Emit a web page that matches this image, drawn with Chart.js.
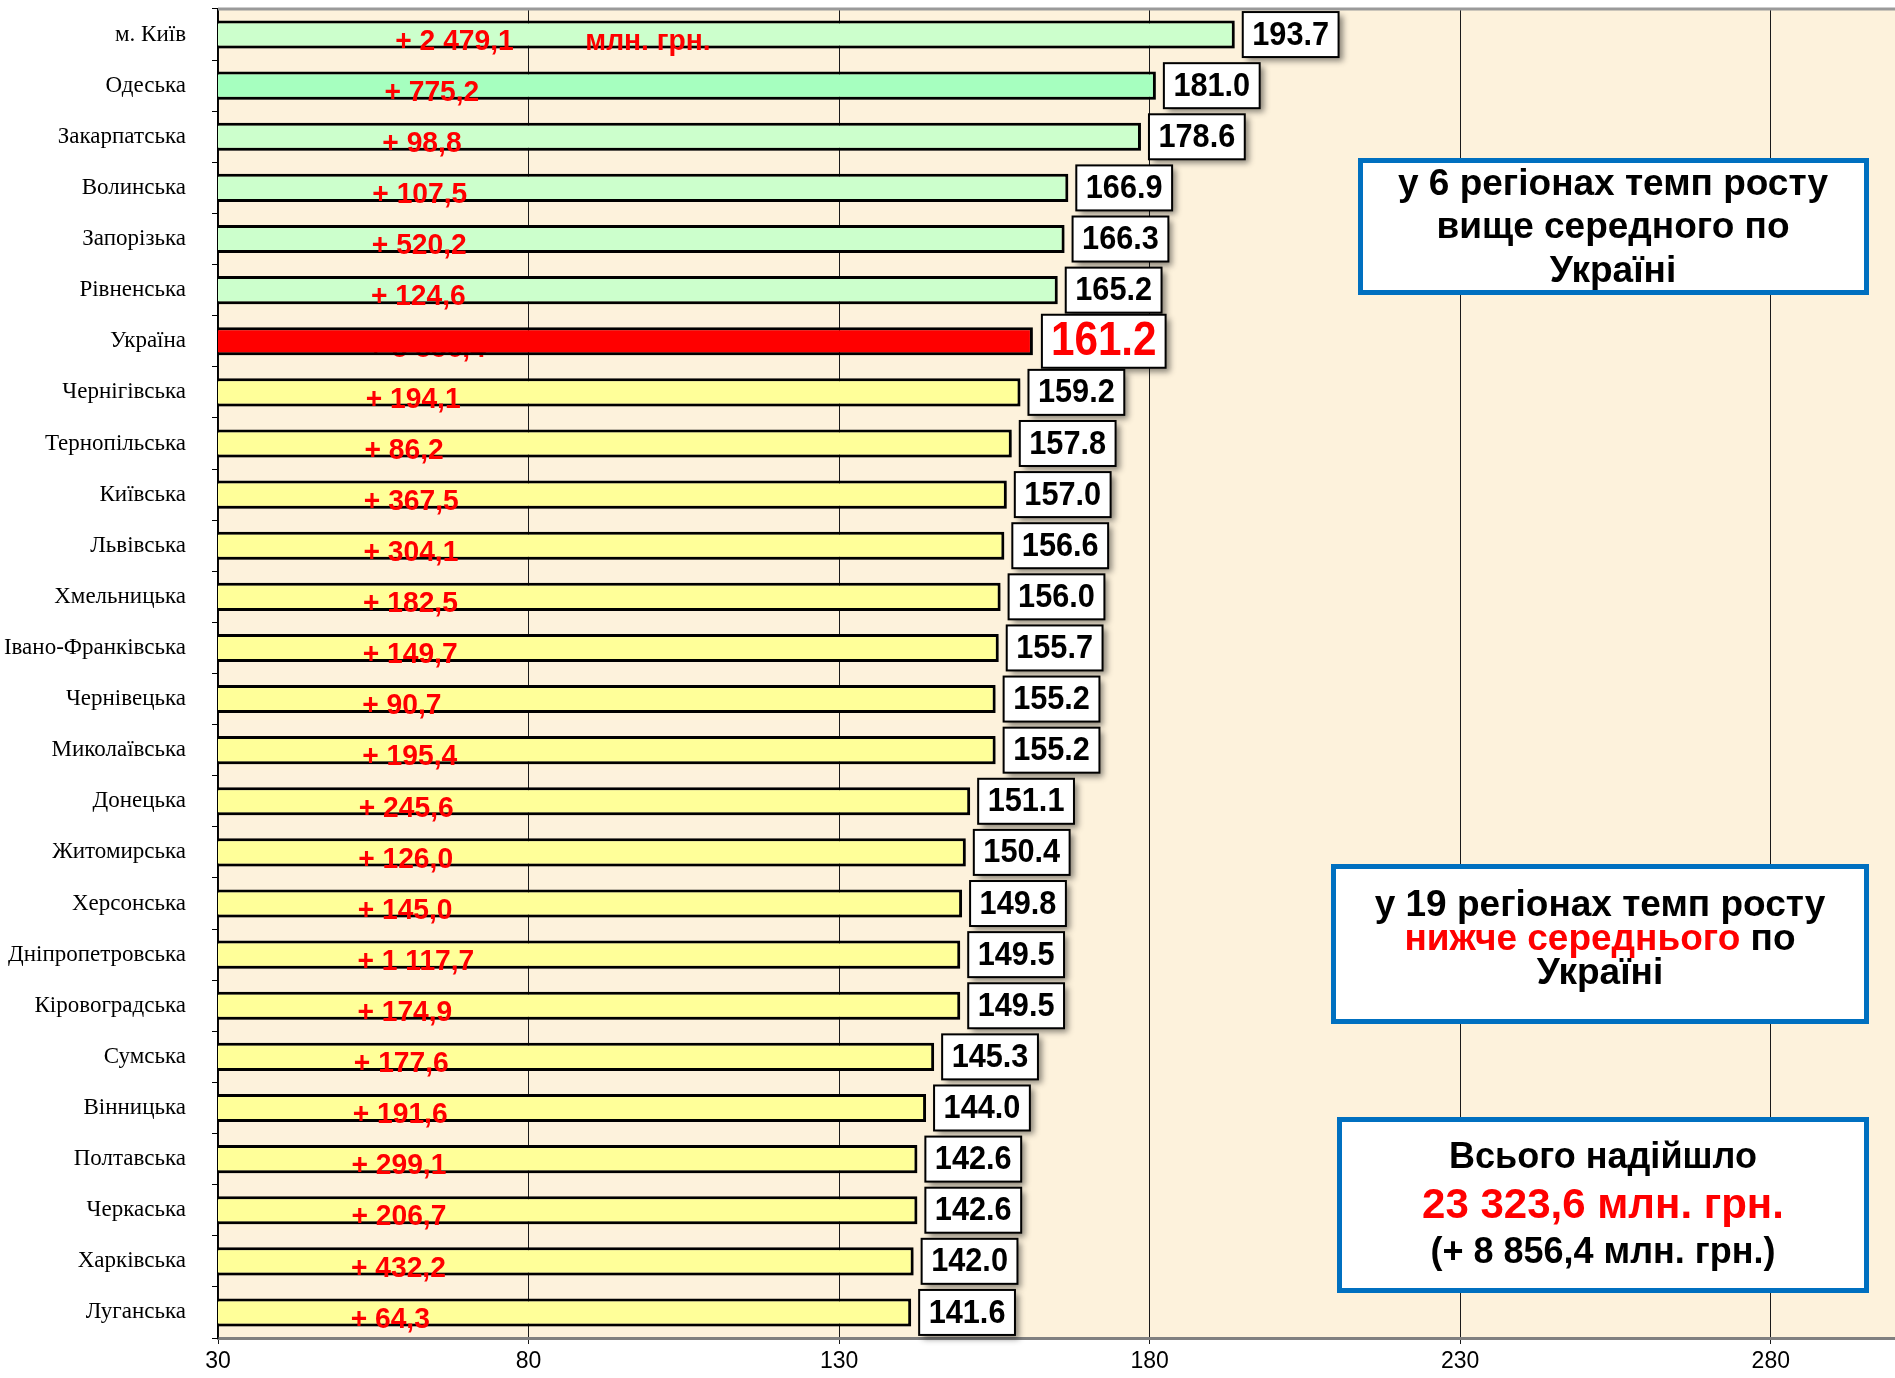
<!DOCTYPE html>
<html lang="uk">

<head>
    <meta charset="UTF-8">
    <title>Темп росту надходжень по регіонах</title>
    <script src="https://cdn.jsdelivr.net/npm/chart.js"></script>
    <style>
        html,
        body {
            margin: 0;
            padding: 0;
            background: #ffffff;
        }
    </style>
</head>

<body>
    <canvas id="graficoBarra" width="1895" height="1378"></canvas>
</body>

</html>

<script>
    // дані
    const regiony = ['м. Київ', 'Одеська', 'Закарпатська', 'Волинська', 'Запорізька', 'Рівненська', 'Україна',
        'Чернігівська', 'Тернопільська', 'Київська', 'Львівська', 'Хмельницька', 'Івано-Франківська',
        'Чернівецька', 'Миколаївська', 'Донецька', 'Житомирська', 'Херсонська', 'Дніпропетровська',
        'Кіровоградська', 'Сумська', 'Вінницька', 'Полтавська', 'Черкаська', 'Харківська', 'Луганська'];

    const tempRostu = [193.7, 181.0, 178.6, 166.9, 166.3, 165.2, 161.2, 159.2, 157.8, 157.0, 156.6, 156.0, 155.7,
        155.2, 155.2, 151.1, 150.4, 149.8, 149.5, 149.5, 145.3, 144.0, 142.6, 142.6, 142.0, 141.6];

    const pryrist = ['+ 2 479,1', '+ 775,2', '+ 98,8', '+ 107,5', '+ 520,2', '+ 124,6', '+ 8 856,4', '+ 194,1',
        '+ 86,2', '+ 367,5', '+ 304,1', '+ 182,5', '+ 149,7', '+ 90,7', '+ 195,4', '+ 245,6', '+ 126,0',
        '+ 145,0', '+ 1 117,7', '+ 174,9', '+ 177,6', '+ 191,6', '+ 299,1', '+ 206,7', '+ 432,2', '+ 64,3'];

    const xTicks = [30, 80, 130, 180, 230, 280];
    const odynytsi = 'млн. грн.';

    const indeksUkrainy = regiony.indexOf('Україна');
    const tempUkraina = tempRostu[indeksUkrainy];

    function kolir(i) {
        if (i === indeksUkrainy) return '#FF0000';
        if (regiony[i] === 'Одеська') return '#A6FFBF';
        return tempRostu[i] > tempUkraina ? '#CCFFCC' : '#FFFF99';
    }

    // текст трохи вужчий, як у оригіналі
    function vuzkyiTekst(ctx, text, x, y, font, color, sx, align) {
        ctx.save();
        ctx.font = font;
        ctx.fillStyle = color;
        ctx.textBaseline = 'middle';
        ctx.textAlign = align || 'left';
        ctx.translate(x, y);
        ctx.scale(sx, 1);
        ctx.fillText(text, 0, 0);
        ctx.restore();
    }

    function shyrynaTekstu(ctx, text, font, sx) {
        ctx.save();
        ctx.font = font;
        const w = ctx.measureText(text).width * sx;
        ctx.restore();
        return w;
    }

    function pidpysPryrostu(chart, bar, i) {
        const ctx = chart.ctx;
        const pochatok = chart.scales.x.getPixelForValue(xTicks[0]);
        const x = pochatok + 37 + 0.138 * (bar.x - pochatok);
        const font = 'bold 30px "Liberation Sans", Arial, sans-serif';
        vuzkyiTekst(ctx, pryrist[i], x, bar.y + 7, font, '#FF0000', 0.94);
        if (i === 0) {
            vuzkyiTekst(ctx, odynytsi, x + 190, bar.y + 7, font, '#FF0000', 0.94);
        }
    }

    const pluginPidpysy = {
        id: 'pidpysy',
        beforeDraw(chart) {
            const ctx = chart.ctx;
            const a = chart.chartArea;
            ctx.save();
            ctx.fillStyle = '#FDF2DC';
            ctx.fillRect(a.left, a.top, a.right - a.left, a.bottom - a.top);
            ctx.restore();
        },
        beforeDatasetsDraw(chart) {
            const ctx = chart.ctx;
            const meta = chart.getDatasetMeta(0);
            // підпис України ховається під червоним стовпчиком
            pidpysPryrostu(chart, meta.data[indeksUkrainy], indeksUkrainy);
            ctx.save();
            ctx.shadowColor = 'rgba(0,0,0,0.22)';
            ctx.shadowBlur = 4;
            ctx.shadowOffsetX = 2;
            ctx.shadowOffsetY = 3;
        },
        afterDatasetsDraw(chart) {
            const ctx = chart.ctx;
            ctx.restore();
            const meta = chart.getDatasetMeta(0);
            const a = chart.chartArea;

            // сіра лінія зверху
            ctx.save();
            ctx.strokeStyle = '#9a9a9a';
            ctx.lineWidth = 3;
            ctx.beginPath();
            ctx.moveTo(a.left, a.top);
            ctx.lineTo(a.right, a.top);
            ctx.stroke();
            ctx.restore();

            meta.data.forEach(function (bar, i) {
                if (i !== indeksUkrainy) pidpysPryrostu(chart, bar, i);

                const ukr = i === indeksUkrainy;
                const text = tempRostu[i].toFixed(1);
                const font = ukr ? 'bold 48px "Liberation Sans", Arial, sans-serif'
                    : 'bold 33px "Liberation Sans", Arial, sans-serif';
                const sx = ukr ? 0.88 : 0.93;
                const tw = shyrynaTekstu(ctx, text, font, sx);
                const w = ukr ? tw + 18 : tw + 19;
                const h = ukr ? 53 : 45;
                const x = bar.x + (ukr ? 9 : 8);
                const y = bar.y - h / 2;

                ctx.save();
                ctx.shadowColor = 'rgba(0,0,0,0.45)';
                ctx.shadowBlur = 6;
                ctx.shadowOffsetX = 4;
                ctx.shadowOffsetY = 4;
                ctx.fillStyle = '#ffffff';
                ctx.fillRect(x, y, w, h);
                ctx.restore();
                ctx.save();
                ctx.strokeStyle = '#000000';
                ctx.lineWidth = 2;
                ctx.strokeRect(x, y, w, h);
                ctx.restore();

                vuzkyiTekst(ctx, text, x + w / 2, bar.y + 1, font, ukr ? '#FF0000' : '#000000', sx, 'center');
            });
        },
        afterDraw(chart) {
            const ctx = chart.ctx;

            function ramka(x1, y1, x2, y2) {
                ctx.save();
                ctx.fillStyle = '#ffffff';
                ctx.fillRect(x1, y1, x2 - x1, y2 - y1);
                ctx.strokeStyle = '#0070C0';
                ctx.lineWidth = 5;
                ctx.strokeRect(x1 + 2.5, y1 + 2.5, x2 - x1 - 5, y2 - y1 - 5);
                ctx.restore();
            }

            function ryadok(parts, cx, y, size) {
                ctx.save();
                ctx.font = 'bold ' + size + 'px "Liberation Sans", Arial, sans-serif';
                ctx.textBaseline = 'middle';
                ctx.textAlign = 'left';
                let total = 0;
                parts.forEach(p => total += ctx.measureText(p[0]).width);
                let x = cx - total / 2;
                parts.forEach(p => {
                    ctx.fillStyle = p[1];
                    ctx.fillText(p[0], x, y);
                    x += ctx.measureText(p[0]).width;
                });
                ctx.restore();
            }

            ramka(1358, 158, 1869, 295);
            ryadok([['у 6 регіонах темп росту', '#000']], 1613, 185, 37);
            ryadok([['вище середного по', '#000']], 1613, 228, 37);
            ryadok([['Україні', '#000']], 1613, 272, 37);

            ramka(1331, 864, 1869, 1024);
            ryadok([['у 19 регіонах темп росту', '#000']], 1600, 906, 37);
            ryadok([['нижче середнього', '#FF0000'], [' по', '#000']], 1600, 940, 37);
            ryadok([['Україні', '#000']], 1600, 974, 37);

            ramka(1337, 1117, 1869, 1293);
            ryadok([['Всього надійшло', '#000']], 1603, 1158, 36);
            ryadok([['23 323,6 млн. грн.', '#FF0000']], 1603, 1206, 42);
            ryadok([['(+ 8 856,4 млн. грн.)', '#000']], 1603, 1253, 36);
        }
    };

    const ctx = document.getElementById('graficoBarra');

    new Chart(ctx, {
        type: 'bar',
        data: {
            labels: regiony,
            datasets: [{
                label: 'Темп росту',
                data: tempRostu,
                backgroundColor: regiony.map((r, i) => kolir(i)),
                borderColor: '#000000',
                borderWidth: 3,
                borderSkipped: false,
                barPercentage: 0.55,
                categoryPercentage: 1
            }]
        },
        options: {
            indexAxis: 'y',
            responsive: false,
            animation: false,
            layout: {
                padding: { top: 9, right: 0, left: 0, bottom: 0 }
            },
            plugins: {
                legend: { display: false },
                tooltip: { enabled: false }
            },
            scales: {
                x: {
                    min: 30,
                    max: 300,
                    afterBuildTicks: function (axis) {
                        axis.ticks = xTicks.map(v => ({ value: v }));
                    },
                    afterFit: function (axis) {
                        axis.height = 40;
                    },
                    ticks: {
                        color: '#000000',
                        padding: 4,
                        maxRotation: 0,
                        font: { family: '"Liberation Sans Narrow", "Liberation Sans", sans-serif', size: 23 }
                    },
                    grid: {
                        color: '#1a1a1a',
                        lineWidth: 1,
                        tickLength: 6
                    },
                    border: {
                        display: true,
                        color: '#808080',
                        width: 3
                    }
                },
                y: {
                    afterFit: function (axis) {
                        axis.width = 218;
                        axis.paddingTop = 0;
                        axis.paddingBottom = 0;
                    },
                    ticks: {
                        color: '#000000',
                        padding: 26,
                        autoSkip: false,
                        font: { family: '"Liberation Serif", "Times New Roman", serif', size: 23 }
                    },
                    grid: {
                        drawOnChartArea: false,
                        offset: true,
                        color: '#000000',
                        tickLength: 6
                    },
                    border: {
                        display: true,
                        color: '#000000',
                        width: 1.5
                    }
                }
            }
        },
        plugins: [pluginPidpysy]
    });
</script>
